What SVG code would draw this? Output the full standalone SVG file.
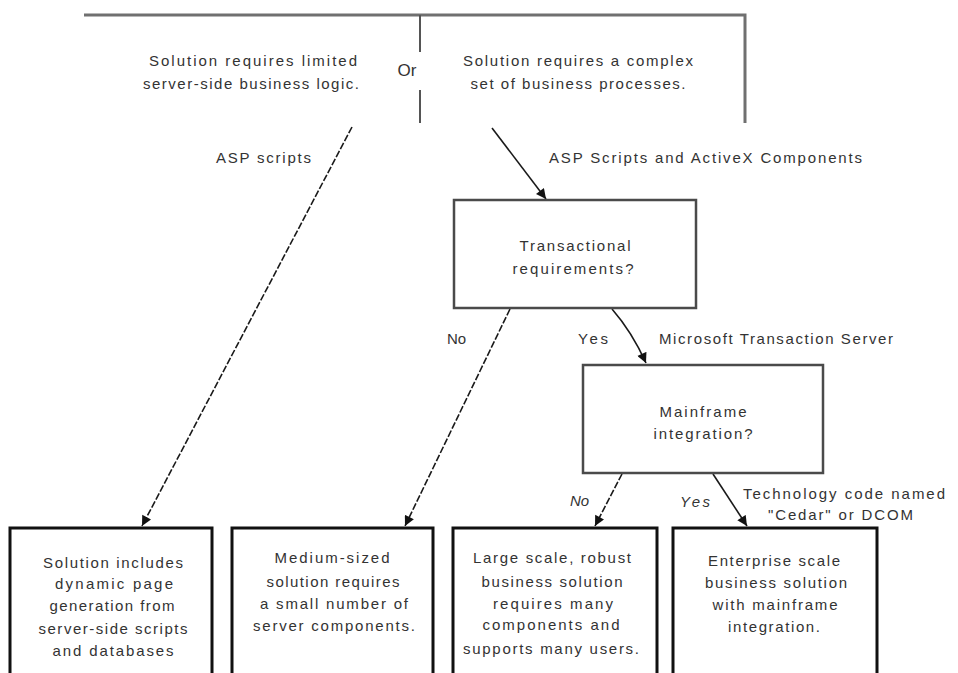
<svg xmlns="http://www.w3.org/2000/svg" width="958" height="673" viewBox="0 0 958 673">
<style>
text{font-family:"Liberation Sans",Arial,sans-serif;font-size:15px;fill:#333;text-anchor:middle;dominant-baseline:central}
.st{text-anchor:start}
.it{font-style:italic}
.q{fill:#fff;stroke:#4a4a4a;stroke-width:2.5}
.r{fill:#fff;stroke:#111;stroke-width:3}
.c{fill:none;stroke:#1a1a1a;stroke-width:1.6}
.d{stroke-dasharray:7 2}
.frame{fill:none;stroke:#707070;stroke-width:3}
</style>
<defs>
<marker id="ah" viewBox="0 0 10 10" refX="10" refY="5" markerWidth="11" markerHeight="10" markerUnits="userSpaceOnUse" orient="auto">
<path d="M0,0 L10,5 L0,10 Z" fill="#111"/>
</marker>
</defs>
<g id="frame">
<path class="frame" d="M84,15 H745 V123"/>
<path d="M420,15 V52 M420,90 V123" stroke="#555" stroke-width="2" fill="none"/>
</g>
<g id="choice-left">
<text x="253" y="60" textLength="208" lengthAdjust="spacing">Solution requires limited</text>
<text x="251" y="83" textLength="216" lengthAdjust="spacing">server-side business logic.</text>
</g>
<g id="or"><text x="407" y="70" style="font-size:17px">Or</text></g>
<g id="choice-right">
<text x="578" y="60" textLength="230" lengthAdjust="spacing">Solution requires a complex</text>
<text x="578" y="83" textLength="215" lengthAdjust="spacing">set of business processes.</text>
</g>
<g id="connectors">
<path class="c d" d="M352,127 L142,526" marker-end="url(#ah)"/>
<path class="c" d="M492,128 L546,199" marker-end="url(#ah)"/>
<path class="c d" d="M510,309 L405,526" marker-end="url(#ah)"/>
<path class="c" d="M612,309 Q632,332 646,363" marker-end="url(#ah)"/>
<path class="c d" d="M622,474 L595,526" marker-end="url(#ah)"/>
<path class="c" d="M713,474 L747,526" marker-end="url(#ah)"/>
<text class="st" x="216" y="157" textLength="95" lengthAdjust="spacing">ASP scripts</text>
<text class="st" x="549" y="157" textLength="313" lengthAdjust="spacing">ASP Scripts and ActiveX Components</text>
<text class="st" x="447" y="338">No</text>
<text class="st" x="578" y="338" textLength="30" lengthAdjust="spacing">Yes</text>
<text class="st" x="659" y="338" textLength="234" lengthAdjust="spacing">Microsoft Transaction Server</text>
<text class="st it" x="570" y="500">No</text>
<text class="st it" x="680" y="501" textLength="30" lengthAdjust="spacing">Yes</text>
<text class="st" x="743" y="493" textLength="202" lengthAdjust="spacing">Technology code named</text>
<text class="st" x="768" y="514" textLength="145" lengthAdjust="spacing">"Cedar" or DCOM</text>
</g>
<g id="transactional">
<rect class="q" x="454" y="200" width="242" height="108"/>
<text x="575" y="245" textLength="111" lengthAdjust="spacing">Transactional</text>
<text x="573" y="268" textLength="121" lengthAdjust="spacing">requirements?</text>
</g>
<g id="mainframe">
<rect class="q" x="583" y="365" width="240" height="108"/>
<text x="703" y="411" textLength="87" lengthAdjust="spacing">Mainframe</text>
<text x="703" y="433" textLength="99" lengthAdjust="spacing">integration?</text>
</g>
<g id="result-asp">
<rect class="r" x="10" y="528" width="202" height="160"/>
<text x="113" y="562" textLength="140" lengthAdjust="spacing">Solution includes</text>
<text x="114" y="583" textLength="118" lengthAdjust="spacing">dynamic page</text>
<text x="112" y="605" textLength="125" lengthAdjust="spacing">generation from</text>
<text x="113" y="628" textLength="149" lengthAdjust="spacing">server-side scripts</text>
<text x="113" y="650" textLength="121" lengthAdjust="spacing">and databases</text>
</g>
<g id="result-medium">
<rect class="r" x="232" y="528" width="201" height="160"/>
<text x="332" y="557" textLength="115" lengthAdjust="spacing">Medium-sized</text>
<text x="333" y="581" textLength="133" lengthAdjust="spacing">solution requires</text>
<text x="334" y="603" textLength="148" lengthAdjust="spacing">a small number of</text>
<text x="334" y="625" textLength="162" lengthAdjust="spacing">server components.</text>
</g>
<g id="result-large">
<rect class="r" x="453" y="528" width="204" height="160"/>
<text x="552" y="557" textLength="158" lengthAdjust="spacing">Large scale, robust</text>
<text x="552" y="581" textLength="141" lengthAdjust="spacing">business solution</text>
<text x="553" y="603" textLength="120" lengthAdjust="spacing">requires many</text>
<text x="551" y="624" textLength="137" lengthAdjust="spacing">components and</text>
<text x="551" y="648" textLength="176" lengthAdjust="spacing">supports many users.</text>
</g>
<g id="result-enterprise">
<rect class="r" x="673" y="528" width="204" height="160"/>
<text x="774" y="560" textLength="132" lengthAdjust="spacing">Enterprise scale</text>
<text x="776" y="582" textLength="142" lengthAdjust="spacing">business solution</text>
<text x="775" y="604" textLength="125" lengthAdjust="spacing">with mainframe</text>
<text x="774" y="626" textLength="92" lengthAdjust="spacing">integration.</text>
</g>
</svg>
